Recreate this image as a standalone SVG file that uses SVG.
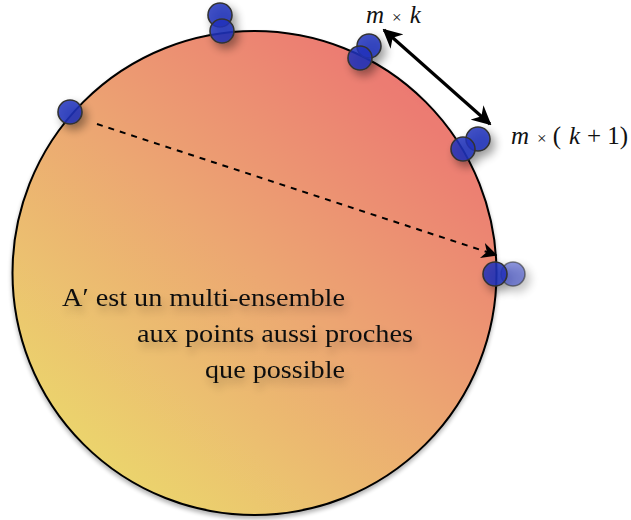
<svg xmlns="http://www.w3.org/2000/svg" width="631" height="520" viewBox="0 0 631 520">
<defs>
<linearGradient id="bg" x1="440" y1="70" x2="90" y2="490" gradientUnits="userSpaceOnUse">
<stop offset="0" stop-color="#ec7372"/>
<stop offset="0.5" stop-color="#eca772"/>
<stop offset="1" stop-color="#ebd96c"/>
</linearGradient>
<filter id="sh" x="-100%" y="-100%" width="300%" height="300%">
<feGaussianBlur in="SourceAlpha" stdDeviation="5"/>
<feOffset dx="4" dy="5" result="b"/>
<feComponentTransfer><feFuncA type="linear" slope="0.45"/></feComponentTransfer>
<feMerge><feMergeNode/><feMergeNode in="SourceGraphic"/></feMerge>
</filter>
<filter id="tsh" x="-20%" y="-50%" width="140%" height="200%">
<feGaussianBlur in="SourceAlpha" stdDeviation="4"/>
<feOffset dx="3" dy="6"/>
<feComponentTransfer><feFuncA type="linear" slope="0.25"/></feComponentTransfer>
<feMerge><feMergeNode/><feMergeNode in="SourceGraphic"/></feMerge>
</filter>
<filter id="csh" x="-10%" y="-10%" width="120%" height="120%">
<feGaussianBlur in="SourceAlpha" stdDeviation="2"/>
<feOffset dx="0" dy="3"/>
<feComponentTransfer><feFuncA type="linear" slope="0.3"/></feComponentTransfer>
<feMerge><feMergeNode/><feMergeNode in="SourceGraphic"/></feMerge>
</filter>
<marker id="ah" viewBox="0 0 10 10" refX="9" refY="5" markerWidth="6" markerHeight="6" orient="auto-start-reverse" markerUnits="strokeWidth">
<path d="M0,0 L10,5 L0,10 L3,5 z" fill="#000"/>
</marker>
<marker id="ahd" viewBox="0 0 10 10" refX="9" refY="5" markerWidth="8" markerHeight="8" orient="auto" markerUnits="strokeWidth">
<path d="M0,0 L10,5 L0,10 L3,5 z" fill="#000"/>
</marker>
</defs>
<style>
.pt{fill:#2233bb;fill-opacity:0.85;stroke:#333;stroke-width:1.6}
.pt2{fill:#2233bb;fill-opacity:0.5;stroke:#333;stroke-opacity:0.6;stroke-width:1.6}
.lbl{font-family:"Liberation Serif","DejaVu Serif",serif;font-size:25px;fill:#111}
.it{font-style:italic}
.ops{font-size:17px}
.cap{font-family:"Liberation Serif","DejaVu Serif",serif;font-size:26px;fill:#111}
</style>
<g id="set">
<circle cx="254.5" cy="273" r="242" fill="url(#bg)" stroke="#000" stroke-width="2" filter="url(#csh)"/>
</g>
<g id="connectors">
<line x1="97" y1="124" x2="496" y2="255" stroke="#000" stroke-width="2" stroke-dasharray="6,6" marker-end="url(#ahd)"/>
<line x1="384" y1="30" x2="490" y2="124" stroke="#000" stroke-width="3.2" marker-start="url(#ah)" marker-end="url(#ah)"/>
</g>
<g id="p1" filter="url(#sh)">
<circle class="pt" cx="220" cy="15" r="12"/>
<circle class="pt" cx="222" cy="31" r="12"/>
</g>
<g id="p2" filter="url(#sh)">
<circle class="pt" cx="369" cy="46" r="12"/>
<circle class="pt" cx="360" cy="58" r="12"/>
</g>
<g id="p3" filter="url(#sh)">
<circle class="pt" cx="478" cy="139" r="12"/>
<circle class="pt" cx="463" cy="149" r="12"/>
</g>
<g id="p4" filter="url(#sh)">
<circle class="pt" cx="70" cy="112" r="12"/>
</g>
<g id="p5" filter="url(#sh)">
<circle class="pt2" cx="513" cy="274" r="12"/>
<circle class="pt" cx="495" cy="274" r="12"/>
</g>
<g id="label-mk">
<text class="lbl" x="366" y="23"><tspan class="it">m</tspan><tspan class="ops" dx="8">×</tspan><tspan class="it" dx="8">k</tspan></text>
</g>
<g id="label-mk1">
<text class="lbl" x="511" y="144"><tspan class="it">m</tspan><tspan class="ops" dx="8">×</tspan><tspan dx="6">(</tspan><tspan class="it" dx="8">k</tspan><tspan dx="7">+</tspan><tspan dx="6">1)</tspan></text>
</g>
<g id="caption" filter="url(#tsh)">
<text class="cap" x="62" y="306" textLength="283" lengthAdjust="spacingAndGlyphs">A′ est un multi-ensemble</text>
<text class="cap" x="137" y="342" textLength="276" lengthAdjust="spacingAndGlyphs">aux points aussi proches</text>
<text class="cap" x="205" y="378" textLength="140" lengthAdjust="spacingAndGlyphs">que possible</text>
</g>
</svg>
